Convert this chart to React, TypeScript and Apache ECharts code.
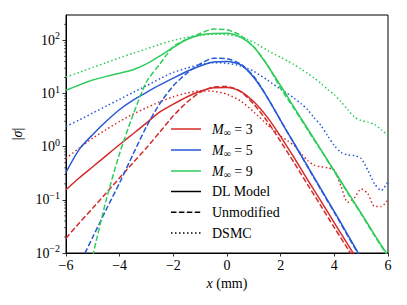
import React, { useEffect, useRef } from "react";
import * as echarts from "echarts";

const FONT = "'Liberation Serif', 'DejaVu Serif', serif";
const RED = "#d62a2a";
const BLUE = "#2659d6";
const GREEN = "#2ecc5c";

const xModel = [-6, -5.5, -5, -4.5, -4, -3.5, -3, -2.5, -2, -1.5, -1, -0.5, 0, 0.5, 1, 1.5, 2, 2.5, 3, 3.5, 4, 4.5, 5, 5.5, 6];
const xDsmc = [-6, -5.5, -5, -4.5, -4, -3.5, -3, -2.5, -2, -1.5, -1, -0.5, 0, 0.5, 1, 1.5, 2, 2.25, 2.5, 2.75, 3, 3.25, 3.5, 3.75, 4, 4.25, 4.5, 4.75, 5, 5.25, 5.5, 5.75, 6];

// M = 3
const m3DL = [0.155, 0.26, 0.42, 0.68, 1.1, 1.75, 2.8, 4.5, 6.3, 8.6, 11, 12.8, 13, 11, 7, 3.6, 1.55, 0.62, 0.24, 0.095, 0.037, 0.0145, 0.0057, 0.0022, 0.0009];
const m3Unmod = [0.019, 0.037, 0.07, 0.135, 0.26, 0.5, 0.95, 1.9, 3.8, 6.8, 10.5, 13.3, 13.5, 11, 6.3, 3.0, 1.25, 0.5, 0.195, 0.077, 0.03, 0.012, 0.0047, 0.0018, 0.0007];
const m3Dsmc = [0.6, 0.95, 1.45, 2.1, 3.0, 4.1, 5.4, 7.0, 8.7, 10.2, 11.2, 11, 9.7, 7.3, 4.5, 2.6, 1.6, 1.3, 1.05, 0.75, 0.55, 0.45, 0.42, 0.4, 0.36, 0.18, 0.09, 0.11, 0.16, 0.13, 0.075, 0.075, 0.1];

// M = 5
const m5DL = [0.33, 0.9, 1.7, 3.0, 5.0, 7.5, 10.5, 14.5, 19.5, 26, 33, 39, 40, 35, 20, 8.5, 3.1, 1.15, 0.43, 0.16, 0.06, 0.022, 0.008, 0.003, 0.001];
const m5Unmod = [0.0015, 0.006, 0.02, 0.066, 0.21, 0.72, 2.4, 6.5, 14, 24, 36, 46, 45, 36, 21, 8.5, 3.1, 1.15, 0.42, 0.155, 0.058, 0.021, 0.0078, 0.003, 0.001];
const m5Dsmc = [2.4, 3.2, 4.3, 5.8, 7.8, 10.5, 14, 19, 25, 30, 35, 38, 37, 33, 26, 18, 12, 10, 8.2, 6.5, 5, 3.5, 2.5, 1.6, 1.05, 0.78, 0.7, 0.68, 0.6, 0.36, 0.2, 0.15, 0.22];

// M = 9
const m9DL = [11.5, 14.5, 18, 21, 24, 28, 36, 51, 74, 104, 126, 135, 136, 115, 75, 34, 14, 5.5, 2.2, 0.88, 0.35, 0.14, 0.056, 0.022, 0.009];
const m9Unmod = [0.0006, 0.009, 0.1, 0.75, 4.0, 16.5, 36, 76, 105, 135, 163, 158, 125, 75, 35, 12.5, 5.2, 2.1, 0.85, 0.34, 0.135, 0.054, 0.021, 0.0085, 0.0034];
const m9UnmodX = [-5.5, -5, -4.5, -4, -3.5, -3, -2.5, -2, -1.5, -1, -0.5, 0, 0.5, 1, 1.5, 2, 2.5, 3, 3.5, 4, 4.5, 5, 5.5, 6, 6.5];
const m9Dsmc = [20.5, 25, 31, 38, 47, 57, 69, 84, 100, 114, 124, 130, 128, 116, 92, 65, 48, 41, 35, 29, 24, 19.5, 15.5, 12, 9.5, 7, 5, 3.6, 3.1, 2.9, 2.6, 2.1, 1.6];

// log-axis minor tick positions
const minorTicks = [
  0.02, 0.03, 0.04, 0.05, 0.06, 0.07, 0.08, 0.09,
  0.2, 0.3, 0.4, 0.5, 0.6, 0.7, 0.8, 0.9,
  2, 3, 4, 5, 6, 7, 8, 9,
  20, 30, 40, 50, 60, 70, 80, 90,
  200,
];

const legendRows = ["M3", "M5", "M9", "DL Model", "Unmodified", "DSMC"];

const zip = (xs: number[], ys: number[]) => xs.map((x, i) => [x, ys[i]]);

const DASH = [5.5, 2.4];
const DOT = [1.5, 2.5];

function mk(name: string, xs: number[], ys: number[], color: string, dash: number[] | null) {
  return {
    name,
    type: "line",
    data: zip(xs, ys),
    showSymbol: false,
    smooth: 0.25,
    clip: true,
    lineStyle: { color, width: 1.5, type: dash ? dash : "solid" },
    emphasis: { disabled: true },
  };
}

export default function App() {
  const ref = useRef<HTMLDivElement>(null);
  useEffect(() => {
    if (!ref.current) return;
    const chart = echarts.init(ref.current, undefined, { renderer: "svg" });
    const legX1 = 171;
    const legX2 = 201;
    const legTextX = 212;
    const rowY = [129, 150, 171, 191.5, 212.3, 233];
    const legendGraphics: any[] = [];
    const legendColors = [RED, BLUE, GREEN, "#000", "#000", "#000"];
    const legendDash: any[] = [null, null, null, null, DASH, DOT];
    const legendText = [
      "{i|M}{s|∞}{n| = 3}",
      "{i|M}{s|∞}{n| = 5}",
      "{i|M}{s|∞}{n| = 9}",
      "{n|" + legendRows[3] + "}",
      "{n|" + legendRows[4] + "}",
      "{n|" + legendRows[5] + "}",
    ];
    rowY.forEach((y, i) => {
      legendGraphics.push({
        type: "line",
        shape: { x1: legX1, y1: y, x2: legX2, y2: y },
        style: { stroke: legendColors[i], lineWidth: 1.5, lineDash: legendDash[i] || undefined },
        z: 100,
      });
      legendGraphics.push({
        type: "text",
        x: legTextX,
        y,
        style: {
          text: legendText[i],
          fill: "#000",
          verticalAlign: "middle",
          align: "left",
          rich: {
            i: { fontFamily: FONT, fontSize: 14, fontStyle: "italic", lineHeight: 16 },
            s: { fontFamily: FONT, fontSize: 10, padding: [7, 0, 0, 0] },
            n: { fontFamily: FONT, fontSize: 14, lineHeight: 16 },
          },
        },
        z: 100,
      });
    });

    const option: any = {
      animation: false,
      grid: { left: 66, right: 19, top: 15, bottom: 52, show: true, borderColor: "#000", borderWidth: 1, backgroundColor: "transparent" },
      xAxis: {
        type: "value",
        min: -6,
        max: 6,
        interval: 2,
        splitLine: { show: false },
        axisLine: { onZero: false, lineStyle: { color: "#000", width: 1 } },
        axisTick: { length: 3.5, lineStyle: { color: "#000", width: 0.8 } },
        axisLabel: {
          color: "#000",
          fontFamily: FONT,
          fontSize: 14,
          margin: 5,
          formatter: (v: number) => (v < 0 ? "\u2212" + Math.abs(v) : String(v)),
        },
        name: "{i|x}{n| (mm)}",
        nameLocation: "middle",
        nameGap: 22,
        nameTextStyle: {
          color: "#000",
          rich: {
            i: { fontFamily: FONT, fontSize: 14, fontStyle: "italic", color: "#000" },
            n: { fontFamily: FONT, fontSize: 14, color: "#000" },
          },
        },
      },
      yAxis: {
        type: "log",
        logBase: 10,
        min: 0.01,
        max: 300,
        splitLine: { show: false },
        axisLine: { onZero: false, lineStyle: { color: "#000", width: 1 } },
        axisTick: { length: 3.5, lineStyle: { color: "#000", width: 0.8 } },
        minorTick: { show: false },
        minorSplitLine: { show: false },
        axisLabel: {
          color: "#000",
          margin: 6,
          showMaxLabel: false,
          formatter: (v: number) => {
            const l = Math.log10(v);
            const e = Math.round(l);
            if (Math.abs(l - e) > 1e-6) return "";
            return "{b|10}{e|" + (e < 0 ? "\u2212" : "") + Math.abs(e) + "}";
          },
          rich: {
            b: { fontFamily: FONT, fontSize: 14, color: "#000", lineHeight: 14 },
            e: { fontFamily: FONT, fontSize: 10, color: "#000", padding: [0, 0, 9, 0] },
          },
        },
        name: "{n||}{i|σ}{n||}",
        nameLocation: "middle",
        nameGap: 38,
        nameRotate: 90,
        nameTextStyle: {
          color: "#000",
          rich: {
            i: { fontFamily: FONT, fontSize: 14, fontStyle: "italic", color: "#000" },
            n: { fontFamily: FONT, fontSize: 14, color: "#000" },
          },
        },
      },
      series: [
        mk("M3 DL", xModel, m3DL, RED, null),
        mk("M3 Unmod", xModel, m3Unmod, RED, DASH),
        mk("M3 DSMC", xDsmc, m3Dsmc, RED, DOT),
        mk("M5 DL", xModel, m5DL, BLUE, null),
        mk("M5 Unmod", xModel, m5Unmod, BLUE, DASH),
        mk("M5 DSMC", xDsmc, m5Dsmc, BLUE, DOT),
        mk("M9 DL", xModel, m9DL, GREEN, null),
        mk("M9 Unmod", m9UnmodX, m9Unmod, GREEN, DASH),
        mk("M9 DSMC", xDsmc, m9Dsmc, GREEN, DOT),
        {
          name: "minor ticks",
          type: "custom",
          data: minorTicks.map((v) => [-6, v]),
          clip: false,
          silent: true,
          z: 20,
          renderItem: (_params: any, api: any) => {
            const p = api.coord([api.value(0), api.value(1)]);
            return {
              type: "line",
              shape: { x1: p[0] - 2, y1: p[1], x2: p[0], y2: p[1] },
              style: { stroke: "#000", lineWidth: 0.6 },
            };
          },
        },
      ],
      graphic: legendGraphics,
    };
    chart.setOption(option);
    return () => chart.dispose();
  }, []);
  return <div ref={ref} style={{ width: 407, height: 305, position: "absolute", left: 0, top: 0 }} />;
}
